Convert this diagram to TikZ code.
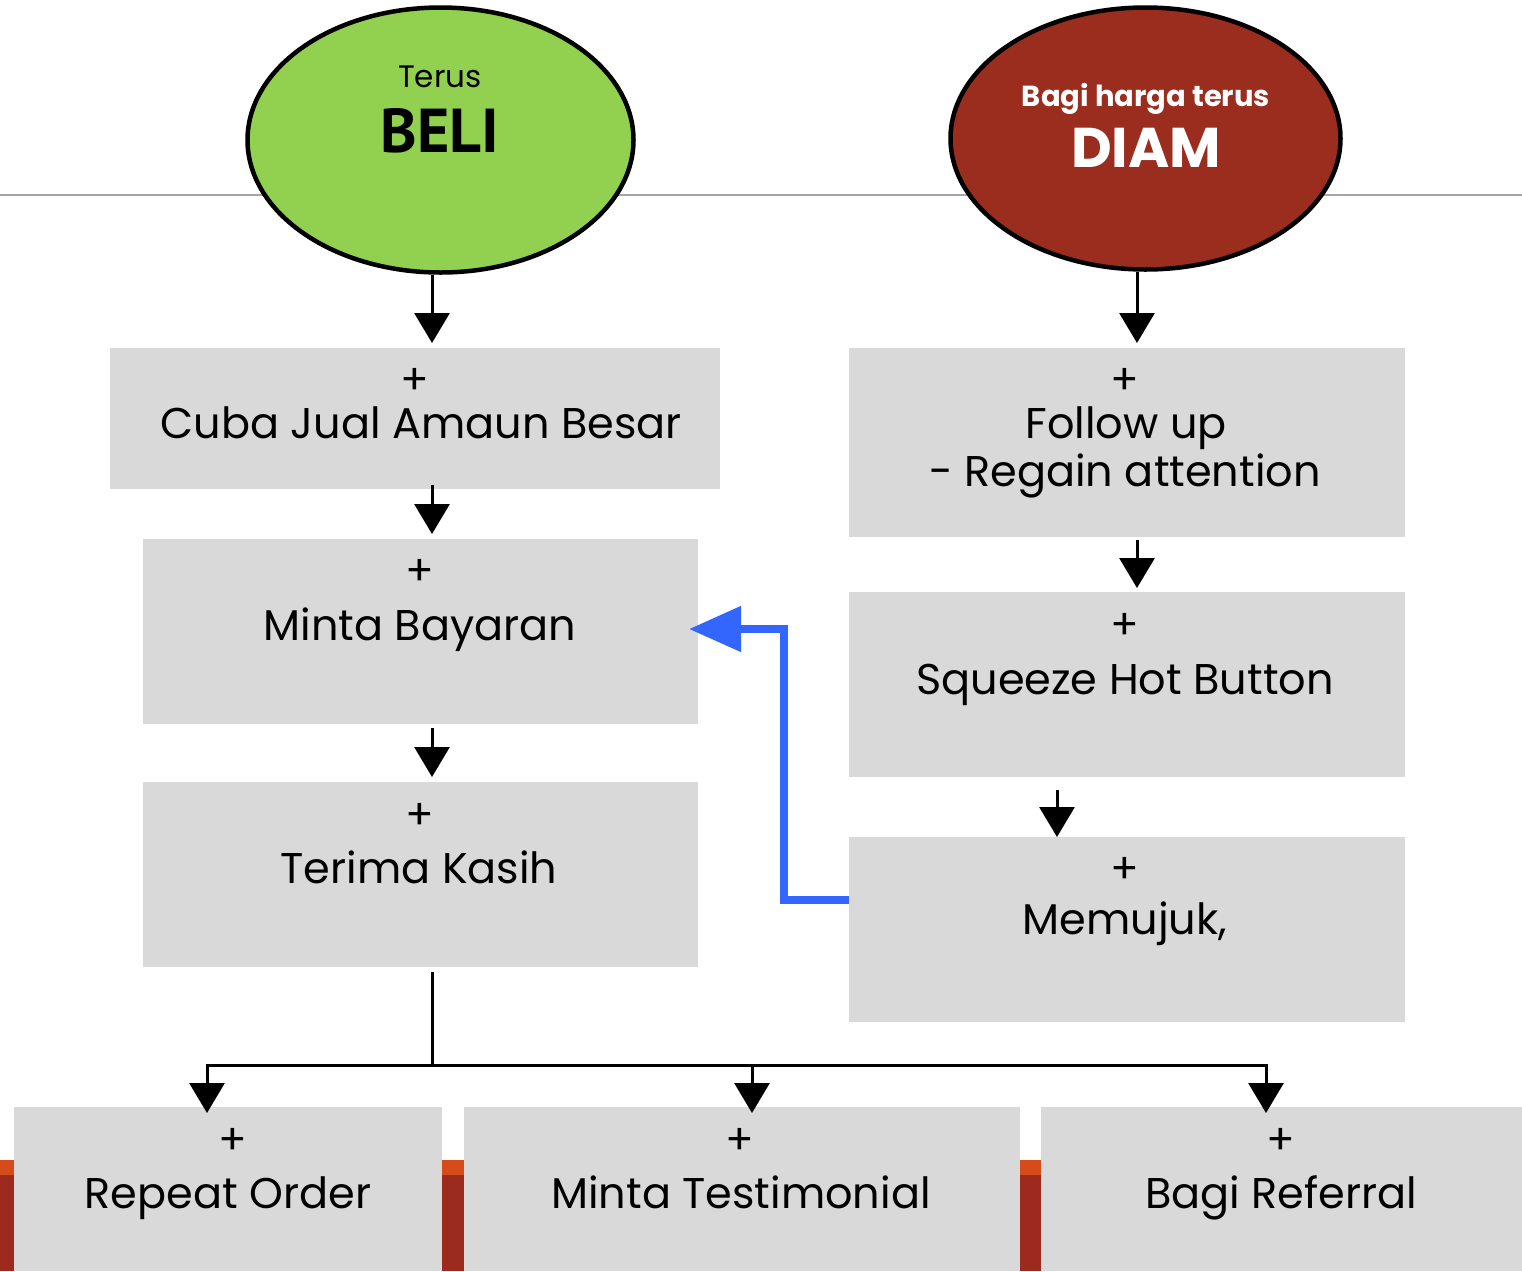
\documentclass[tikz,border=0pt]{standalone}
\usepackage{fontspec}
\setmainfont{Poppins}
\newfontfamily\headfont{PT Sans}
\usetikzlibrary{shapes.geometric,arrows.meta}
\definecolor{boxgray}{HTML}{D9D9D9}
\definecolor{beligreen}{HTML}{92D050}
\definecolor{diamred}{HTML}{9B2D1F}
\definecolor{stripred}{HTML}{9C2A1E}
\definecolor{striporange}{HTML}{D54B1A}
\definecolor{loopblue}{HTML}{3366FF}
\definecolor{rulegray}{HTML}{A6A6A6}
\tikzset{
  boxnode/.style={draw=none,fill=boxgray,rectangle,inner sep=0pt,outer sep=0pt},
  ovalnode/.style={ellipse,draw=black,line width=2.25pt,inner sep=0pt},
  plusnode/.style={inner sep=0pt,font=\fontsize{21}{24}\selectfont},
  txtnode/.style={inner sep=0pt,anchor=base,align=center,font=\fontsize{21.5}{24}\selectfont},
  arr/.style={line width=1.5pt,-{Triangle[width=17.5pt,length=15pt]}},
  plainline/.style={line width=1.5pt},
  bluearr/.style={line width=4pt,loopblue,-{Triangle[width=22pt,length=26pt]}}
}
\begin{document}
\begin{tikzpicture}[x=0.5pt,y=-0.5pt]
\useasboundingbox (0,0) rectangle (1522,1271);
\fill[white] (0,0) rectangle (1522,1271);
% horizontal rule
\draw[rulegray,line width=1pt] (0,195) -- (1522,195);
% bottom strips
\fill[striporange] (0,1160) rectangle (1522,1175);
\fill[stripred] (0,1175) rectangle (1522,1271);
% ellipses
\node[ovalnode,fill=beligreen,minimum width=193pt,minimum height=132.5pt] (beli) at (440.5,140) {};
\node[ovalnode,fill=diamred,minimum width=195pt,minimum height=131pt] (diam) at (1145.5,138.5) {};
\node[inner sep=0pt,font=\fontsize{15.5}{18}\selectfont] (terus) at (440,77) {Terus};
\node[inner sep=0pt,font=\headfont\bfseries\fontsize{31}{34}\selectfont] (belit) at (440,131) {BELI};
\node[inner sep=0pt,text=white,font=\fontsize{14.5}{18}\selectfont] (bagiharga) at (1146,99) {\textbf{Bagi harga terus}};
\node[inner sep=0pt,text=white,font=\bfseries\fontsize{28}{32}\selectfont] (diamt) at (1146,148) {DIAM};
% boxes
\node[boxnode,minimum width=305pt,minimum height=70.5pt] (b1) at (415,418.5) {};
\node[boxnode,minimum width=277.5pt,minimum height=92.5pt] (b2) at (420.5,631.5) {};
\node[boxnode,minimum width=277.5pt,minimum height=92.5pt] (b3) at (420.5,874.5) {};
\node[boxnode,minimum width=278pt,minimum height=94.5pt] (rb1) at (1127,442.5) {};
\node[boxnode,minimum width=278pt,minimum height=92.5pt] (rb2) at (1127,684.5) {};
\node[boxnode,minimum width=278pt,minimum height=92.5pt] (rb3) at (1127,929.5) {};
\node[boxnode,minimum width=214pt,minimum height=82pt] (ba) at (228,1189) {};
\node[boxnode,minimum width=278pt,minimum height=82pt] (bb) at (742,1189) {};
\node[boxnode,minimum width=240.5pt,minimum height=82pt] (bc) at (1281.5,1189) {};
% box texts
\node[plusnode] (p1) at (415,381) {+};
\node[txtnode] (t1) at (421,438) {Cuba Jual Amaun Besar};
\node[plusnode] (p2) at (420,572) {+};
\node[txtnode] (t2) at (420,640) {Minta Bayaran};
\node[plusnode] (p3) at (420,816) {+};
\node[txtnode] (t3) at (419,883) {Terima Kasih};
\node[plusnode] (rp1) at (1125,381) {+};
\node[txtnode] (rt1a) at (1126,438) {Follow up};
\node[txtnode] (rt1b) at (1125,486) {- Regain attention};
\node[plusnode] (rp2) at (1125,626) {+};
\node[txtnode] (rt2) at (1125,694) {Squeeze Hot Button};
\node[plusnode] (rp3) at (1125,870) {+};
\node[txtnode] (rt3) at (1125,934) {Memujuk,};
\node[plusnode] (pa) at (233,1141) {+};
\node[txtnode] (ta) at (228,1208) {Repeat Order};
\node[plusnode] (pb) at (740,1141) {+};
\node[txtnode] (tb) at (741,1208) {Minta Testimonial};
\node[plusnode] (pc) at (1281,1141) {+};
\node[txtnode] (tc) at (1281,1208) {Bagi Referral};
% column coordinates
\coordinate (cL) at (432,0);
\coordinate (cR) at (1137,0);
\coordinate (cR2) at (1057,0);
\coordinate (cA) at (207,0);
\coordinate (cB) at (752,0);
\coordinate (cC) at (1266,0);
\coordinate (jn) at (432,1065);
% arrows left column
\draw[arr] (beli.south -| cL) -- ([yshift=2.5pt]b1.north -| cL);
\draw[arr] ([yshift=2pt]b1.south -| cL) -- ([yshift=2.5pt]b2.north -| cL);
\draw[arr] ([yshift=-2pt]b2.south -| cL) -- ([yshift=2.5pt]b3.north -| cL);
% arrows right column
\draw[arr] (diam.south -| cR) -- ([yshift=2.5pt]rb1.north -| cR);
\draw[arr] ([yshift=-1.5pt]rb1.south -| cR) -- ([yshift=2pt]rb2.north -| cR);
\draw[arr] ([yshift=-6.5pt]rb2.south -| cR2) -- ([yshift=0pt]rb3.north -| cR2);
% bottom distribution
\draw[plainline] ([yshift=-2.5pt]b3.south -| cL) -- (jn);
\draw[arr] (jn) -| ([yshift=-3pt]ba.north -| cA);
\draw[arr] (jn) -| ([yshift=-3pt]bb.north -| cB);
\draw[arr] (jn) -| ([yshift=-3pt]bc.north -| cC);
% blue loop
\draw[bluearr] ([yshift=15pt]rb3.west) -- ++(-65,0) |- ([xshift=-4.5pt,yshift=1.25pt]b2.east);
\end{tikzpicture}
\end{document}
